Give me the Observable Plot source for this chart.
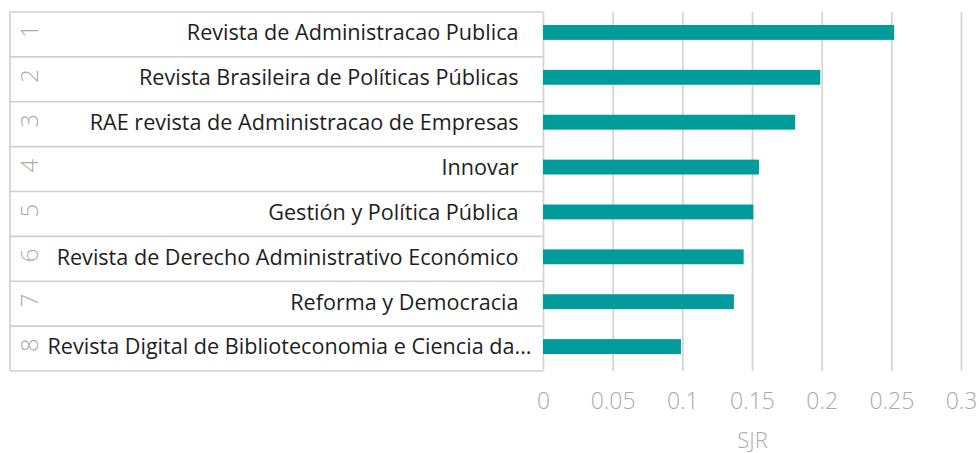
<!DOCTYPE html>
<html>
<head>
<meta charset="utf-8">
<script src="https://cdn.jsdelivr.net/npm/d3@7"></script>
<script src="https://cdn.jsdelivr.net/npm/@observablehq/plot@0.6"></script>
<style>
  html, body { margin: 0; padding: 0; background: #fff; }
  #chart svg { display: block; }
</style>
</head>
<body>
<div id="chart"></div>
<script>
const ranks = ["1", "2", "3", "4", "5", "6", "7", "8"];
const journals = [
  "Revista de Administracao Publica",
  "Revista Brasileira de Políticas Públicas",
  "RAE revista de Administracao de Empresas",
  "Innovar",
  "Gestión y Política Pública",
  "Revista de Derecho Administrativo Económico",
  "Reforma y Democracia",
  "Revista Digital de Biblioteconomia e Ciencia da..."
];
const sjr = [0.252, 0.199, 0.181, 0.155, 0.151, 0.144, 0.137, 0.099];
const xTicks = [0, 0.05, 0.1, 0.15, 0.2, 0.25, 0.3];
const xTickLabels = ["0", "0.05", "0.1", "0.15", "0.2", "0.25", "0.3"];
const axisTitle = "SJR";

const rows = journals.map((name, i) => ({rank: ranks[i], name, value: sjr[i], truncated: name.endsWith("...")}));

const W = 979, H = 453;
const mL = 543, mR = 18, mT = 12, mB = 82;
const tableLeft = 10;
const teal = "#009B9B";
const lineColor = "#cfcfcf";

const labelStyle = {
  y: "name", text: "name", frameAnchor: "left", dy: -1.5,
  textAnchor: "end", fontSize: 21.6, fill: "#1e1e1e"
};

const chart = Plot.plot({
  width: W,
  height: H,
  marginLeft: mL,
  marginRight: mR,
  marginTop: mT,
  marginBottom: mB,
  style: {fontFamily: "'Open Sans', sans-serif", background: "#fff"},
  x: {domain: [0, 0.3]},
  y: {domain: journals, padding: 0, round: false, axis: null},
  marks: [
    Plot.gridX(xTicks, {stroke: "#d2d2d2", strokeOpacity: 1, strokeWidth: 1.6}),
    Plot.barX(rows, {x: "value", y: "name", fill: teal, insetTop: 13, insetBottom: 17}),
    Plot.text(rows.filter(d => !d.truncated), {...labelStyle, dx: -25}),
    Plot.text(rows.filter(d => d.truncated), {...labelStyle, dx: -12}),
    Plot.text(rows, {
      y: "name", text: "rank", frameAnchor: "left", dx: -(mL - 29.5), dy: 3,
      rotate: -90, fontSize: 24, fill: "#ababab", fontWeight: 300
    }),
    Plot.axisX(xTicks, {
      tickSize: 0, tickPadding: 21, fontSize: 23, fill: "#aaaaaa", fontWeight: 300,
      tickFormat: d => xTickLabels[xTicks.indexOf(d)], label: null
    }),
    Plot.text([axisTitle], {
      text: d => d, frameAnchor: "bottom", dy: 69, lineAnchor: "middle",
      fontSize: 22, fill: "#aaaaaa", fontWeight: 300
    })
  ]
});

document.getElementById("chart").appendChild(chart);

// table lines (row separators and borders) positioned with Plot's y scale
const yS = chart.scale("y");
const svg = d3.select(chart);
const g = svg.insert("g", ":first-child").attr("class", "table-lines");
const bw = yS.bandwidth;
const edges = journals.map(n => yS.apply(n)).concat([yS.apply(journals[journals.length - 1]) + bw]);
const x0 = chart.scale("x").apply(0);
g.selectAll("line.h").data(edges).join("line")
  .attr("x1", tableLeft).attr("x2", x0)
  .attr("y1", d => d).attr("y2", d => d)
  .attr("stroke", lineColor).attr("stroke-width", 1.6);
g.append("line")
  .attr("x1", tableLeft).attr("x2", tableLeft)
  .attr("y1", edges[0]).attr("y2", edges[edges.length - 1])
  .attr("stroke", lineColor).attr("stroke-width", 1.6);
</script>
</body>
</html>
